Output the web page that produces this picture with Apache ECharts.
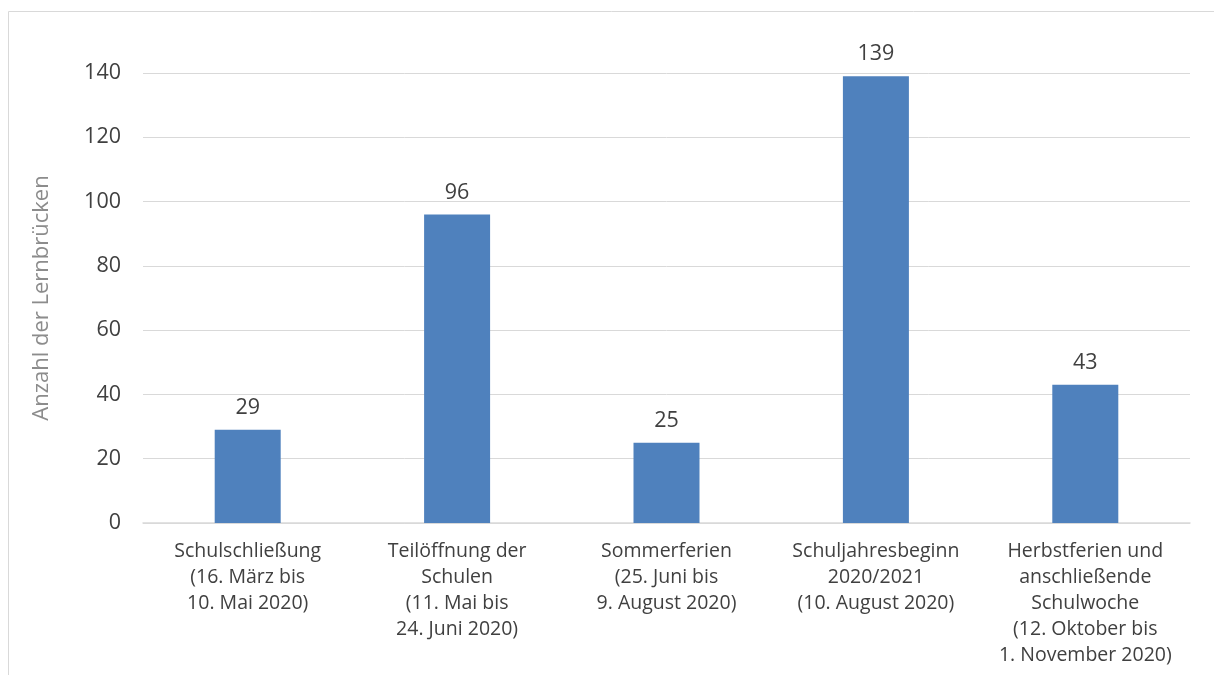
<!DOCTYPE html>
<html>
<head>
<meta charset="utf-8">
<script src="https://cdn.jsdelivr.net/npm/echarts@6/dist/echarts.min.js"></script>
<style>
html,body{margin:0;padding:0;background:#fff;}
#chart{width:1214px;height:675px;}
</style>
</head>
<body>
<div id="chart"></div>
<script>
const categories = [
  "Schulschließung\n(16. März bis\n10. Mai 2020)",
  "Teilöffnung der\nSchulen\n(11. Mai bis\n24. Juni 2020)",
  "Sommerferien\n(25. Juni bis\n9. August 2020)",
  "Schuljahresbeginn\n2020/2021\n(10. August 2020)",
  "Herbstferien und\nanschließende\nSchulwoche\n(12. Oktober bis\n1. November 2020)"
];
const values = [29, 96, 25, 139, 43];
const yAxisTitle = "Anzahl der Lernbrücken";

const chart = echarts.init(document.getElementById('chart'));
const font = "'Open Sans', 'Noto Sans', sans-serif";
chart.setOption({
  animation: false,
  graphic: [{
    type: 'rect',
    shape: {x: 8.5, y: 11.5, width: 1300, height: 800},
    style: {fill: 'none', stroke: '#d9d9d9', lineWidth: 1},
    silent: true
  }],
  grid: {left: 143, right: 24, top: 73, bottom: 152, containLabel: false},
  xAxis: {
    type: 'category',
    data: categories,
    axisLine: {show: true, lineStyle: {color: '#d9d9d9', width: 1.5}},
    axisTick: {show: false},
    axisLabel: {
      color: '#404040', fontFamily: font, fontSize: 19.5, lineHeight: 26,
      margin: 15, interval: 0, align: 'center'
    }
  },
  yAxis: {
    type: 'value',
    min: 0, max: 140, interval: 20,
    name: yAxisTitle,
    nameLocation: 'middle',
    nameGap: 90,
    nameRotate: 90,
    nameTextStyle: {color: '#8c8c8c', fontFamily: font, fontSize: 22},
    axisLine: {show: false},
    axisTick: {show: false},
    splitLine: {lineStyle: {color: '#d9d9d9', width: 1}},
    axisLabel: {color: '#404040', fontFamily: font, fontSize: 21.5, margin: 22}
  },
  series: [{
    type: 'bar',
    data: values,
    barWidth: 66,
    itemStyle: {color: '#4f81bd'},
    label: {
      show: true, position: 'top', distance: 11,
      color: '#404040', fontFamily: font, fontSize: 21.5
    }
  }]
});
</script>
</body>
</html>
